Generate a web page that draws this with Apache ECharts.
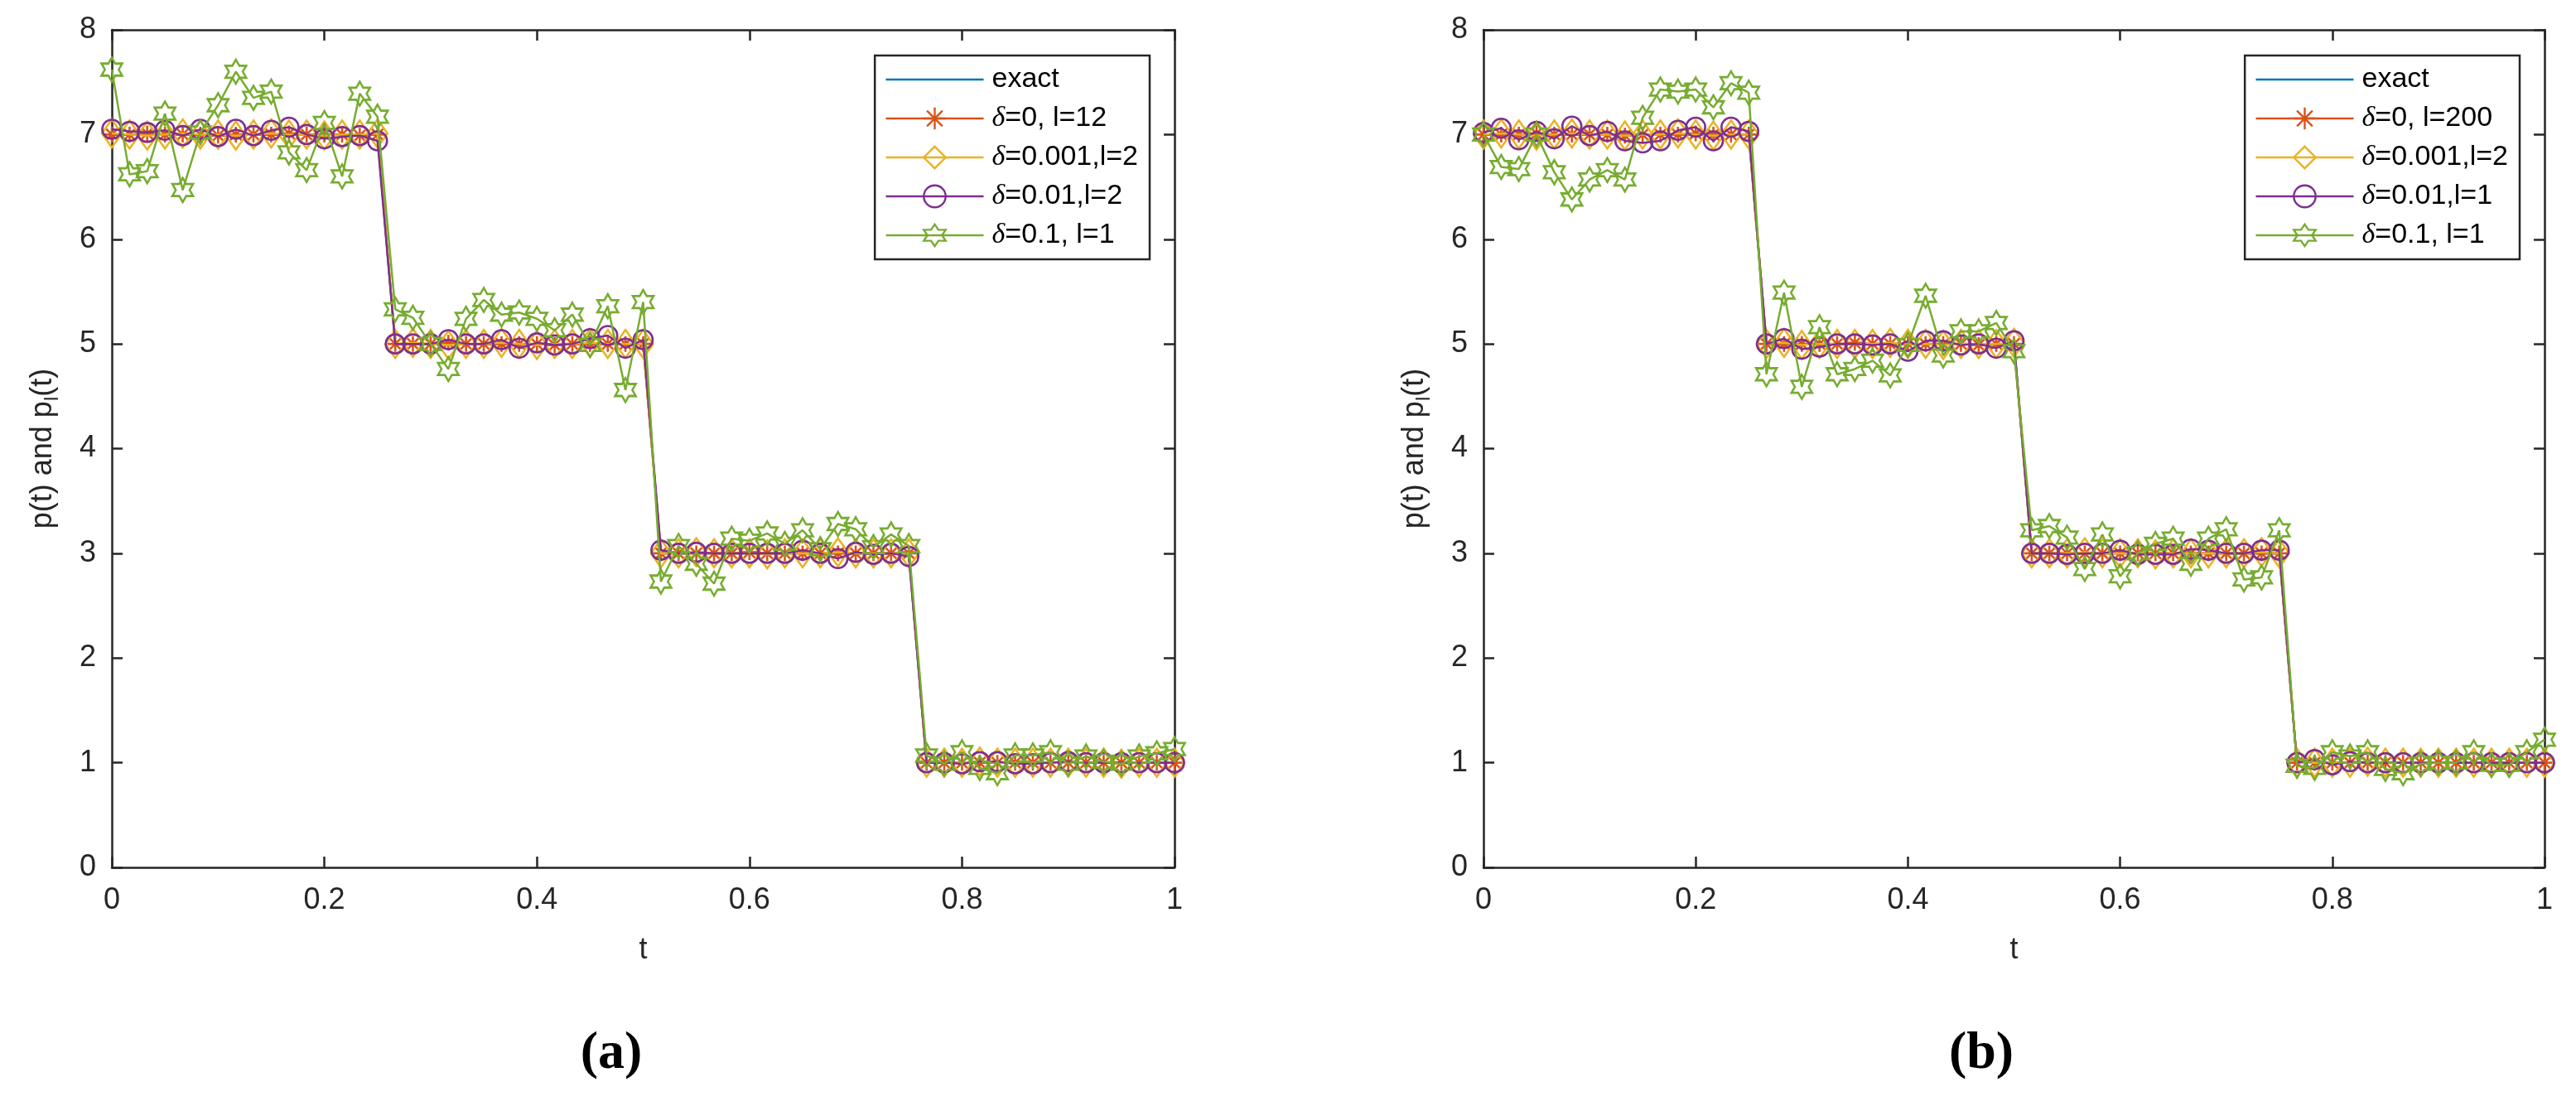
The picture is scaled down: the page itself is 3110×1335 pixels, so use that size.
<!DOCTYPE html>
<html><head><meta charset="utf-8">
<script src="https://cdn.jsdelivr.net/npm/echarts@6/dist/echarts.min.js"></script>
<style>html,body{margin:0;padding:0;background:#fff}#c{width:3110px;height:1335px}</style>
</head><body><div id="c"></div>
<script>
// ---------- data ----------
const tValues = [0,0.0167,0.0333,0.05,0.0667,0.0833,0.1,0.1167,0.1333,0.15,0.1667,0.1833,0.2,0.2167,0.2333,0.25,
  0.2667,0.2833,0.3,0.3167,0.3333,0.35,0.3667,0.3833,0.4,0.4167,0.4333,0.45,0.4667,0.4833,0.5,
  0.5167,0.5333,0.55,0.5667,0.5833,0.6,0.6167,0.6333,0.65,0.6667,0.6833,0.7,0.7167,0.7333,0.75,
  0.7667,0.7833,0.8,0.8167,0.8333,0.85,0.8667,0.8833,0.9,0.9167,0.9333,0.95,0.9667,0.9833,1];

const exactValues = [7,7,7,7,7,7,7,7,7,7,7,7,7,7,7,7,
  5,5,5,5,5,5,5,5,5,5,5,5,5,5,5,
  3,3,3,3,3,3,3,3,3,3,3,3,3,3,3,
  1,1,1,1,1,1,1,1,1,1,1,1,1,1,1];

// (a)
const orangeA = [7.00,7.00,7.01,7.00,7.00,7.00,6.99,7.00,7.00,7.00,7.01,7.00,7.00,7.00,6.99,7.00,
  5.00,5.00,5.00,5.01,5.00,5.00,5.00,5.00,5.00,4.99,5.00,5.00,5.00,5.00,5.00,
  3.00,3.00,3.00,3.00,3.00,3.01,3.00,3.00,3.00,3.00,3.00,3.00,3.00,3.00,3.00,
  1.00,1.00,1.00,1.00,1.00,1.00,1.00,1.00,1.00,1.00,1.00,1.00,1.00,1.00,1.00];
const yellowA = [7.01,7.00,6.99,7.00,7.01,7.00,7.00,6.99,7.00,7.01,7.00,7.00,6.99,7.00,7.00,7.01,
  5.00,5.01,5.00,4.99,5.00,5.00,5.01,5.00,4.99,5.00,5.00,5.01,5.00,5.00,5.00,
  3.00,3.00,3.01,3.00,3.00,3.00,2.99,3.00,3.00,3.00,3.01,3.00,3.00,3.00,3.00,
  1.00,1.00,1.00,1.01,1.00,1.00,1.00,1.00,1.00,1.00,1.00,0.99,1.00,1.00,1.00];
const purpleA = [7.05,7.03,7.02,7.04,6.99,7.05,6.98,7.05,6.99,7.04,7.07,7.00,6.96,6.98,6.99,6.94,
  5.00,5.00,5.00,5.04,5.00,5.00,5.04,4.96,5.01,4.99,5.00,5.05,5.08,4.96,5.04,
  3.03,3.00,3.01,3.00,3.00,3.00,3.00,3.00,3.03,3.00,2.95,3.01,2.99,3.00,2.97,
  1.00,1.00,0.99,1.01,1.01,0.99,0.99,1.00,1.01,1.00,1.00,1.00,1.00,1.00,1.00];
const greenA = [7.62,6.62,6.65,7.20,6.47,7.02,7.28,7.60,7.35,7.41,6.83,6.66,7.11,6.60,7.39,7.17,
  5.33,5.25,5.00,4.76,5.24,5.42,5.28,5.30,5.24,5.13,5.28,4.99,5.36,4.56,5.40,
  2.73,3.07,2.90,2.71,3.14,3.12,3.19,3.09,3.22,3.04,3.28,3.23,3.06,3.18,3.07,
  1.07,0.99,1.10,0.95,0.90,1.07,1.07,1.10,0.99,1.06,1.01,0.99,1.06,1.09,1.13];

// (b)
const orangeB = [7.00,7.00,7.00,7.01,7.00,7.00,7.00,7.00,6.99,7.00,7.00,7.00,7.01,7.00,7.00,7.00,
  5.00,5.00,5.00,5.00,5.00,5.01,5.00,5.00,5.00,5.00,5.00,5.00,4.99,5.00,5.00,
  3.00,3.00,3.00,3.00,3.00,3.00,3.00,3.00,3.00,3.00,3.00,3.00,3.00,3.00,3.00,
  1.00,1.00,1.00,1.00,1.00,1.00,1.00,1.00,1.00,1.00,1.00,1.00,1.00,1.00,1.00];
const yellowB = [7.00,7.01,7.00,6.99,7.00,7.01,7.00,7.00,6.99,7.00,7.00,7.01,7.00,6.99,7.00,7.00,
  5.00,5.01,4.99,5.00,5.00,5.00,5.00,5.01,5.00,5.00,4.99,5.00,5.00,5.00,5.01,
  3.00,3.00,3.00,3.01,3.00,3.00,3.00,2.99,3.00,3.00,3.00,3.00,3.00,3.01,3.00,
  1.00,1.00,1.00,1.00,1.01,1.00,1.00,1.00,1.00,1.00,1.00,1.00,1.00,1.00,1.00];
const purpleB = [7.02,7.06,6.95,7.03,6.96,7.08,6.99,7.03,6.94,6.92,6.94,7.04,7.07,6.94,7.07,7.03,
  5.00,5.05,4.95,4.97,5.00,5.00,4.99,5.00,4.93,5.03,5.03,4.99,5.00,4.96,5.03,
  3.00,3.00,2.99,3.00,3.00,3.03,2.99,2.99,2.99,3.04,3.03,3.00,3.00,3.03,3.03,
  1.00,1.03,0.98,1.01,1.00,1.00,1.00,1.00,1.00,1.00,1.00,1.00,1.00,1.00,1.00];
const greenB = [7.00,6.69,6.67,7.00,6.64,6.38,6.57,6.66,6.57,7.16,7.43,7.41,7.43,7.26,7.49,7.40,
  4.71,5.49,4.59,5.16,4.71,4.76,4.84,4.70,4.99,5.46,4.89,5.12,5.12,5.20,4.93,
  3.22,3.26,3.15,2.85,3.18,2.78,3.00,3.09,3.14,2.90,3.14,3.23,2.75,2.77,3.22,
  0.97,0.95,1.10,1.06,1.10,0.94,0.90,0.99,1.00,1.00,1.10,0.98,0.98,1.10,1.22];

const namesA = ['exact','δ=0, l=12','δ=0.001,l=2','δ=0.01,l=2','δ=0.1, l=1'];
const namesB = ['exact','δ=0, l=200','δ=0.001,l=2','δ=0.01,l=1','δ=0.1, l=1'];
const xTickValues = [0,0.2,0.4,0.6,0.8,1];
const yTickValues = [0,1,2,3,4,5,6,7,8];
const captions = ['(a)','(b)'];

// ---------- styles ----------
const COLORS = ['#0072BD','#D95319','#EDB120','#7E2F8E','#77AC30'];
const STAR = 'path://M0,-100L28.87,-50L86.6,-50L57.74,0L86.6,50L28.87,50L0,100L-28.87,50L-86.6,50L-57.74,0L-86.6,-50L-28.87,-50Z';
const ASTER = 'path://M0,-100L0,100M-100,0L100,0M-71,-71L71,71M-71,71L71,-71';
const SYMBOLS = ['none', ASTER, 'diamond', 'circle', STAR];
const SIZES = [0, [19,19], [24,34], [23,23], [25,29]];
const AX = '#262626';
const FONT = 'Liberation Sans';

function pairs(vals){ return tValues.map((t,i)=>[t, vals[i]]); }

function mk(name, vals, k, axisIdx){
  return {
    type:'line', name, data: pairs(vals),
    xAxisIndex: axisIdx, yAxisIndex: axisIdx,
    symbol: SYMBOLS[k], symbolSize: SIZES[k], showSymbol: k !== 0,
    lineStyle:{color: COLORS[k], width: 2.5},
    itemStyle:{color:'rgba(0,0,0,0)', borderColor: k===0 ? 'rgba(0,0,0,0)' : COLORS[k], borderWidth: 2.6},
    emphasis:{disabled:true}, silent:true, animation:false, z: 2 + k
  };
}

const seriesA = [exactValues, orangeA, yellowA, purpleA, greenA];
const seriesB = [exactValues, orangeB, yellowB, purpleB, greenB];
const series = [];
seriesA.forEach((v,k)=>series.push(mk(namesA[k], v, k, 0)));
seriesB.forEach((v,k)=>series.push(mk(namesB[k], v, k, 2)));

function xAx(grid, top){
  return {
    type:'value', gridIndex: grid, position: top ? 'top' : 'bottom',
    min: xTickValues[0], max: xTickValues[xTickValues.length-1], interval: 0.2,
    axisLine:{show:true, onZero:false, lineStyle:{color:AX, width:2.5}},
    axisTick:{show:true, inside:true, length:13, lineStyle:{color:AX, width:2.5}},
    axisLabel:{show:!top, fontSize:36, color:AX, fontFamily:FONT, margin:22},
    splitLine:{show:false},
    name: top ? '' : 't', nameLocation:'middle', nameGap: 82,
    nameTextStyle:{fontSize:36, color:AX, fontFamily:FONT}
  };
}
function yAx(grid, right){
  return {
    type:'value', gridIndex: grid, position: right ? 'right' : 'left',
    min: yTickValues[0], max: yTickValues[yTickValues.length-1], interval: 1,
    axisLine:{show:true, onZero:false, lineStyle:{color:AX, width:2.5}},
    axisTick:{show:true, inside:true, length:13, lineStyle:{color:AX, width:2.5}},
    axisLabel:{show:!right, fontSize:36, color:AX, fontFamily:FONT, margin:19},
    splitLine:{show:false},
    name: right ? '' : '{a|p(t) and p}{s|l}{a|(t)}', nameLocation:'middle', nameGap: 60, nameRotate: 90,
    nameTextStyle:{fontSize:36, color:AX, fontFamily:FONT,
      rich:{
        a:{fontSize:36, color:AX, fontFamily:FONT, lineHeight:46, verticalAlign:'middle'},
        s:{fontSize:24, color:AX, fontFamily:FONT, lineHeight:24, verticalAlign:'bottom'}
      }}
  };
}

function legend(names, right){
  return {
    data: names, orient:'vertical', right: right, top: 67,
    itemWidth:118, itemHeight:33, itemGap:13,
    padding:[12,14,12,12],
    backgroundColor:'#fff', borderColor:AX, borderWidth:2.5, borderRadius:0,
    selectedMode:false,
    lineStyle:{width:2.6},
    itemStyle:{borderWidth:2.4},
    formatter: n => n.charAt(0)==='δ' ? '{i|δ}{n|' + n.slice(1) + '}' : '{f|' + n + '}',
    textStyle:{fontSize:34, color:'#000', fontFamily:FONT,
      rich:{
        i:{fontSize:34, color:'#000', fontFamily:'Liberation Serif', fontStyle:'italic', padding:[0,0,0,5]},
        n:{fontSize:34, color:'#000', fontFamily:FONT},
        f:{fontSize:34, color:'#000', fontFamily:FONT, padding:[0,0,0,5]}
      }}
  };
}

const chart = echarts.init(document.getElementById('c'), null, {renderer:'canvas'});
chart.setOption({
  backgroundColor:'#fff',
  animation:false,
  textStyle:{fontFamily:FONT},
  grid:[
    {left:135, top:36, width:1283, height:1011},
    {left:1791, top:36, width:1281, height:1011}
  ],
  xAxis:[xAx(0,false), xAx(0,true), xAx(1,false), xAx(1,true)],
  yAxis:[yAx(0,false), yAx(0,true), yAx(1,false), yAx(1,true)],
  legend:[legend(namesA, 1722), legend(namesB, 68)],
  graphic:[
    {type:'text', x:738, y:1272, style:{text:captions[0], fontSize:64, fontWeight:'bold', fontFamily:'Liberation Serif', fill:'#000', align:'center', verticalAlign:'middle'}},
    {type:'text', x:2392, y:1272, style:{text:captions[1], fontSize:64, fontWeight:'bold', fontFamily:'Liberation Serif', fill:'#000', align:'center', verticalAlign:'middle'}}
  ],
  series: series
});
</script>
</body></html>
